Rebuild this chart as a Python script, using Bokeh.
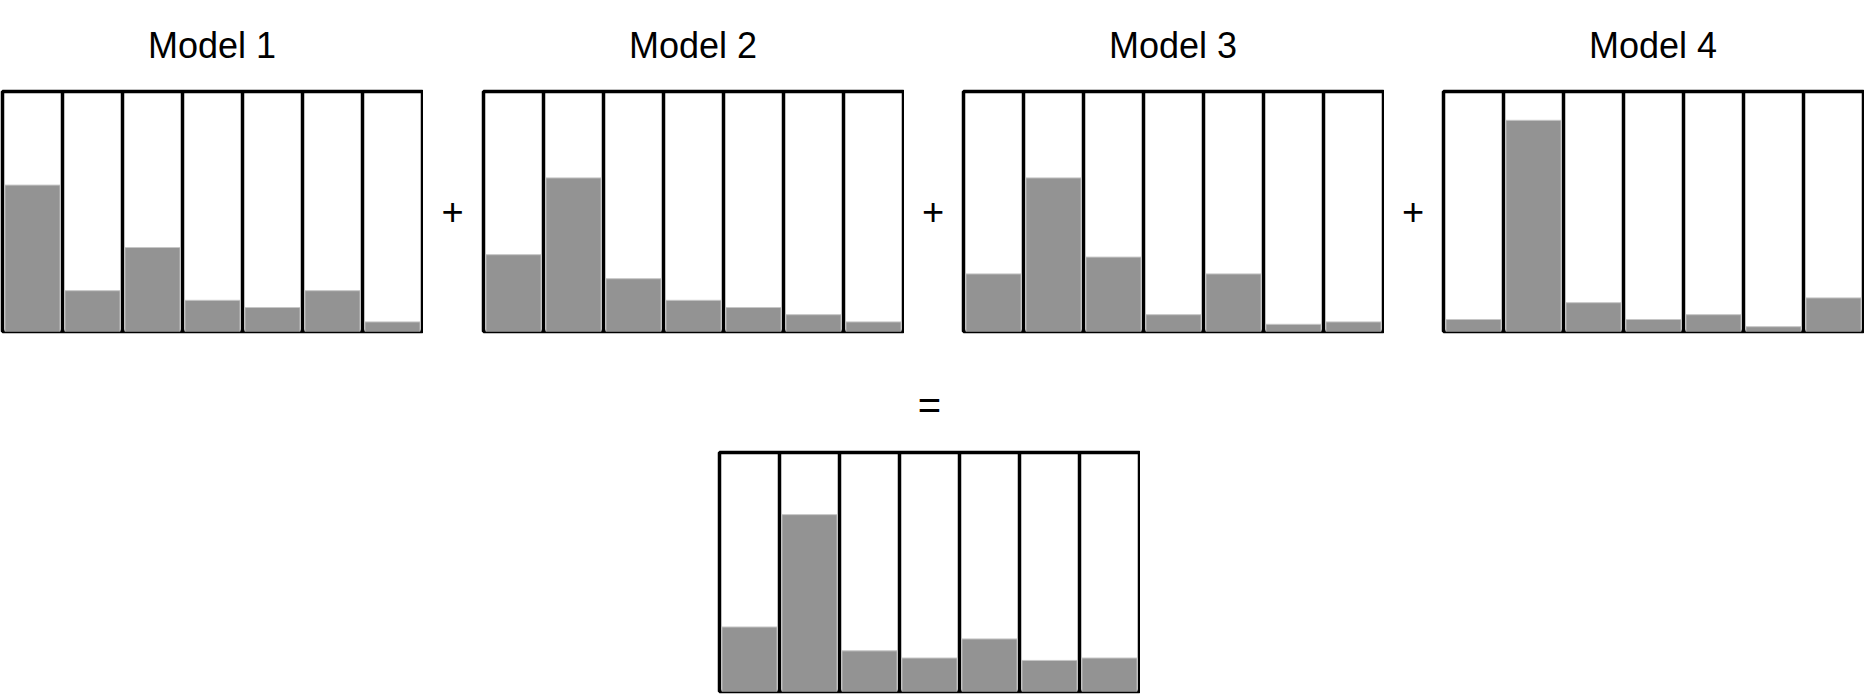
from bokeh.plotting import figure
from bokeh.layouts import row, column
from bokeh.models import FixedTicker, Spacer, ColumnDataSource
from bokeh.core.properties import value
from bokeh.embed import file_html
from bokeh.resources import INLINE

# ---- data ----
positions = [0.5, 1.5, 2.5, 3.5, 4.5, 5.5, 6.5]
titles = ["Model 1", "Model 2", "Model 3", "Model 4"]
model1 = [0.61, 0.17, 0.35, 0.13, 0.10, 0.17, 0.04]
model2 = [0.32, 0.64, 0.22, 0.13, 0.10, 0.07, 0.04]
model3 = [0.24, 0.64, 0.31, 0.07, 0.24, 0.03, 0.04]
model4 = [0.05, 0.88, 0.12, 0.05, 0.07, 0.02, 0.14]
result = [0.27, 0.74, 0.17, 0.14, 0.22, 0.13, 0.14]
plus_sign = "+"
equals_sign = "="

FONT = "Liberation Sans"
BAR_FILL = "#939393"
BAR_LINE = "#c6c6c6"


def bare(width, height, top=0, bottom=0, left=0, right=0, xr=(0, 1)):
    p = figure(width=width, height=height, x_range=xr, y_range=(0, 1),
               output_backend="svg", toolbar_location=None,
               min_border_left=left, min_border_right=right,
               min_border_top=top, min_border_bottom=bottom)
    p.xaxis.visible = False
    p.yaxis.visible = False
    p.xgrid.visible = False
    p.ygrid.visible = False
    p.outline_line_color = None
    p.background_fill_color = "white"
    p.border_fill_color = "white"
    return p


def label_fig(txt, width, height, size, top=0, bottom=0):
    p = bare(width, height, top, bottom)
    p.text(x=[0.5], y=[0.5], text=[txt], text_align="center",
           text_baseline="middle", text_font=value(FONT),
           text_font_size=value(size), text_color="black")
    return p


def panel(vals, width, height, top, bottom):
    p = bare(width, height, top, bottom, left=2, right=width - 422, xr=(0, 7))
    p.xgrid.visible = True
    p.xgrid.ticker = FixedTicker(ticks=[1, 2, 3, 4, 5, 6])
    p.xgrid.grid_line_color = "black"
    p.xgrid.grid_line_width = 3.5
    p.xgrid.grid_line_alpha = 1.0
    p.outline_line_color = "black"
    p.outline_line_width = 3.5
    p.outline_line_alpha = 1.0
    src = ColumnDataSource(dict(x=positions, top=vals))
    p.vbar(x="x", top="top", bottom=0, width=0.92, source=src,
           fill_color=BAR_FILL, line_color=BAR_LINE, line_width=1)
    return p


PANEL_W = 423
plus_widths = [58, 57, 57]
HEAD_H = 89
TOP_H = 245
models = [model1, model2, model3, model4]

head_children = []
top_children = []
for i, (vals, t) in enumerate(zip(models, titles)):
    head_children.append(label_fig(t, PANEL_W, HEAD_H, "36px"))
    top_children.append(panel(vals, PANEL_W, TOP_H, 2, 3))
    if i < 3:
        head_children.append(Spacer(width=plus_widths[i], height=HEAD_H))
        top_children.append(label_fig(plus_sign, plus_widths[i], TOP_H, "38px", top=2, bottom=3))

head_row = row(*head_children, spacing=0)
top_row = row(*top_children, spacing=0)

eq_fig = label_fig(equals_sign, PANEL_W, 91, "40px")
res_fig = panel(result, PANEL_W, 246, 2, 5)
bottom_col = column(Spacer(width=PANEL_W, height=25), eq_fig, res_fig, spacing=0)
bottom_row = row(Spacer(width=717, height=362), bottom_col, spacing=0)

layout = column(head_row, top_row, bottom_row, spacing=0)

open("out.html", "w").write(file_html(layout, INLINE))
